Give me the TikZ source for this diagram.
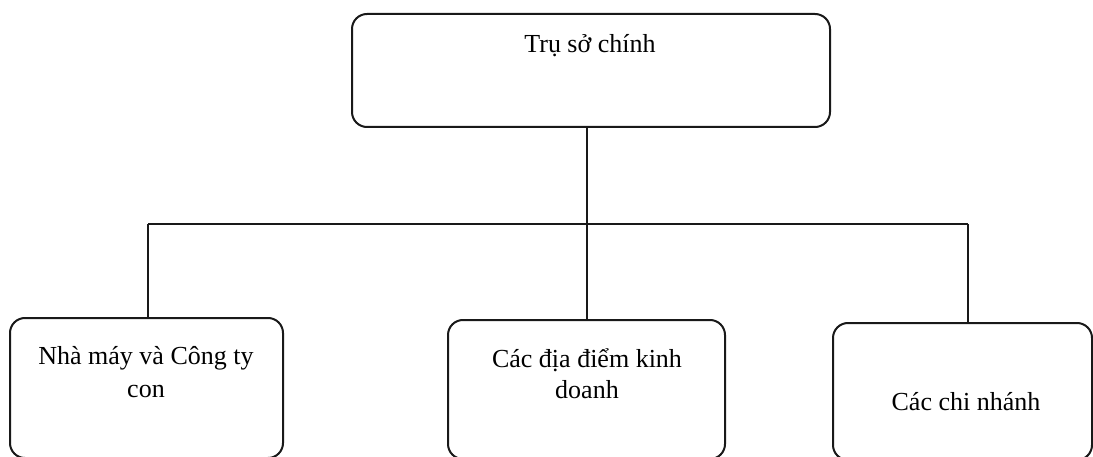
\documentclass[tikz,border=0pt]{standalone}
\usepackage{fontspec}
\setmainfont{Liberation Serif}
\begin{document}
\begin{tikzpicture}[x=1pt,y=-1pt,
  box/.style={draw=black!90, line width=2pt, rounded corners=15pt, inner sep=0pt},
  conn/.style={draw=black!90, line width=2pt},
  lbl/.style={anchor=base, inner sep=0pt, font=\fontsize{26}{33}\selectfont}]
\useasboundingbox (0,0) rectangle (1093,457);
\node[box, minimum width=478pt, minimum height=113pt] (top) at (591,70.5) {};
\node[box, minimum width=273pt, minimum height=140pt] (b1) at (146.5,388) {};
\node[box, minimum width=277pt, minimum height=139pt] (b2) at (586.5,389.5) {};
\node[box, minimum width=259pt, minimum height=137pt] (b3) at (962.5,391.5) {};
\node[lbl] (ttop) at (590,53) {Trụ sở chính};
\node[lbl] (t1a) at (146,364) {Nhà máy và Công ty};
\node[lbl] (t1b) at (146,397) {con};
\node[lbl] (t2a) at (587,367) {Các địa điểm kinh};
\node[lbl] (t2b) at (587,398) {doanh};
\node[lbl] (t3) at (966,410) {Các chi nhánh};
\coordinate (hl) at (148,224);
\coordinate (hm) at (587,224);
\coordinate (hr) at (968,224);
\draw[conn] (top.south -| hm) -- (hm);
\draw[conn] (hl) -- (hr);
\draw[conn] (hl) -- (b1.north -| hl);
\draw[conn] (hm) -- (b2.north -| hm);
\draw[conn] (hr) -- (b3.north -| hr);
\end{tikzpicture}
\end{document}
